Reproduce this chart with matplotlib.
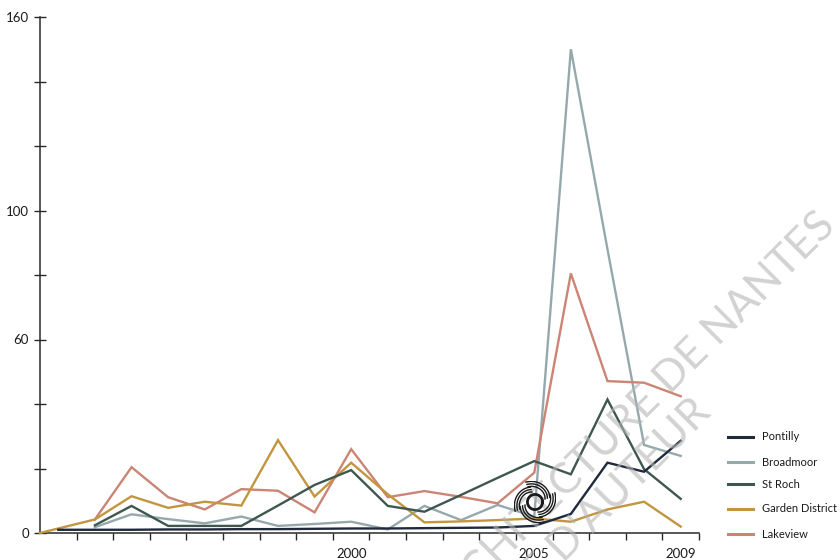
import numpy as np
import matplotlib
matplotlib.use("Agg")
import matplotlib.pyplot as plt
from matplotlib.lines import Line2D

plt.rcParams['font.family'] = ['Lato', 'DejaVu Sans']

# ---------------- data ----------------
series_names = ["Pontilly", "Broadmoor", "St Roch", "Garden District", "Lakeview"]
series_colors = ["#1f2a3b", "#95a9ad", "#3e5750", "#c1963f", "#cc8474"]

pontilly_years = list(range(1992, 2010))
pontilly = [1.0, 1.0, 1.0, 1.1, 1.1, 1.2, 1.2, 1.3, 1.4, 1.4, 1.5, 1.6, 1.7, 2.2,
            5.9, 21.8, 19.0, 28.6]

broadmoor_years = list(range(1993, 2010))
broadmoor = [1.8, 5.8, 4.3, 3.0, 5.1, 2.2, 2.8, 3.5, 1.1, 8.4, 4.0, 8.7, 5.1,
             150.0, 88.0, 27.3, 23.9]

stroch_years = list(range(1993, 2010))
stroch = [2.4, 8.4, 2.2, 2.2, 2.2, 8.5, 14.9, 19.5, 8.4, 6.6, 11.8, 17.1, 22.3,
          18.2, 41.4, 19.8, 10.6]

garden_years = [1991.5] + list(range(1993, 2010))
garden = [0.0, 4.2, 11.4, 7.8, 9.7, 8.5, 28.8, 11.3, 21.8, 12.0, 3.3, 3.6, 4.0,
          4.5, 3.5, 7.3, 9.7, 2.0]

lakeview_years = list(range(1993, 2010))
lakeview = [4.2, 20.4, 11.1, 7.3, 13.6, 13.1, 6.4, 26.0, 11.1, 13.0, 11.2, 9.2,
            18.7, 80.5, 47.1, 46.6, 42.4]

year_labels = [2000, 2005, 2009]
y_ticks = [0, 20, 40, 60, 80, 100, 120, 140, 160]
y_tick_labels = ["0", "", "", "60", "", "100", "", "", "160"]

all_years = [pontilly_years, broadmoor_years, stroch_years, garden_years, lakeview_years]
all_values = [pontilly, broadmoor, stroch, garden, lakeview]

# ---------------- figure ----------------
W, H = 840, 560
fig = plt.figure(figsize=(W / 100, H / 100), dpi=100)

# watermark (behind everything)
wm_kw = dict(rotation=45, rotation_mode='anchor', ha='right', va='center',
             fontsize=31, color="#b4b4b4", alpha=0.6, zorder=0)
fig.text(828 / W, 1 - 219 / H, "ÉCOLE NATIONALE SUPÉRIEURE D'ARCHITECTURE DE NANTES", **wm_kw)
fig.text(704 / W, 1 - 406 / H, "DOCUMENT SOUMIS AU DROIT D'AUTEUR", **wm_kw)

ax = fig.add_axes([40 / W, 1 - 533 / H, (699 - 40) / W, (533 - 17) / H])
ax.patch.set_alpha(0)

draw_order = [1, 4, 3, 2, 0]
for i in draw_order:
    ax.plot(all_years[i], all_values[i], color=series_colors[i], lw=1.7,
            solid_joinstyle='miter', zorder=3 + draw_order.index(i), clip_on=False)

ax.set_xlim(1991.5, 2009.5)
ax.set_ylim(0, 160)

for s in ["top", "right"]:
    ax.spines[s].set_visible(False)
for s in ["left", "bottom"]:
    ax.spines[s].set_color("#2a2a2a")
    ax.spines[s].set_linewidth(1.1)

# x: tick marks between years, labels at chosen years
ax.set_xticks(np.arange(1992.5, 2009.6, 1.0))
ax.set_xticklabels([])
ax.tick_params(axis='x', which='major', direction='out', length=5, width=1.0,
               color="#2a2a2a")
ax.set_xticks(year_labels, minor=True)
ax.set_xticklabels([str(y) for y in year_labels], minor=True)
ax.tick_params(axis='x', which='minor', length=0, pad=11, labelsize=9.5,
               labelcolor="#1a1a1a")

ax.set_yticks(y_ticks)
ax.set_yticklabels(y_tick_labels)
ax.tick_params(axis='y', direction='inout', length=8, width=1.0, color="#2a2a2a",
               labelsize=9.5, labelcolor="#1a1a1a", pad=4)

# legend (manual, outside the axes)
leg_y = [437, 462, 484, 509, 534]
for name, col, yy in zip(series_names, series_colors, leg_y):
    fy = 1 - yy / H
    fig.add_artist(Line2D([728 / W, 753 / W], [fy, fy], color=col, lw=2.2,
                          transform=fig.transFigure))
    fig.text(762 / W, fy, name, fontsize=8.0, va='center', ha='left', color="#1a1a1a")

# hurricane icon
iax = fig.add_axes([(535 - 21) / W, 1 - (502 + 21) / H, 42 / W, 42 / H])
iax.set_xlim(-1, 1)
iax.set_ylim(-1, 1)
iax.set_aspect('equal')
iax.axis('off')
iax.set_zorder(20)
t = np.linspace(0, 2 * np.pi, 100)
iax.plot(0.36 * np.cos(t), 0.36 * np.sin(t), color="#1a1a1a", lw=2.0)
for k in range(4):
    a0 = k * np.pi / 2 + 0.3
    for dr in (0.0, 0.12, 0.24):
        th = np.linspace(0, 1.7, 40)
        r = 0.5 + dr + 0.3 * th / 1.7
        iax.plot(r * np.cos(a0 + th), r * np.sin(a0 + th), color="#1a1a1a", lw=1.0)

fig.savefig("out.png", dpi=100)
